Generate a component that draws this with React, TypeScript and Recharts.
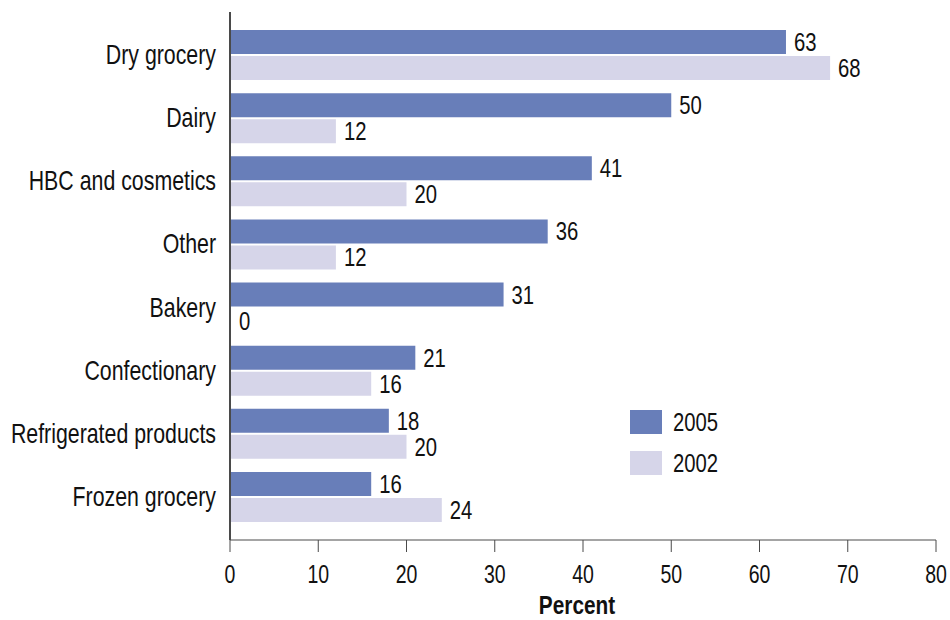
import React from 'react';
import { BarChart, Bar, XAxis, YAxis, LabelList } from 'recharts';

const categories = [
    'Dry grocery',
    'Dairy',
    'HBC and cosmetics',
    'Other',
    'Bakery',
    'Confectionary',
    'Refrigerated products',
    'Frozen grocery',
];
const values2005 = [63, 50, 41, 36, 31, 21, 18, 16];
const values2002 = [68, 12, 20, 12, 0, 16, 20, 24];
const xTicks = [0, 10, 20, 30, 40, 50, 60, 70, 80];

// no narrow face installed, so Arial-metric text is squeezed horizontally
const FONT = "'Liberation Sans', Arial, sans-serif";
const DARK = '#687eb9';
const LIGHT = '#d6d5e9';
const AXIS = '#4a4a4a';
const INK = '#111';

const data = categories.map((name, i) => ({
    name,
    y2005: values2005[i],
    y2002: values2002[i],
}));

const NarrowText = ({ x, y, anchor = 'start', dy = '0.35em', size = 26, squeeze = 0.78, bold = false, children }: any) => (
    <g transform={`translate(${x},${y})`}>
        <text
            transform={`scale(${squeeze},1)`}
            textAnchor={anchor}
            dy={dy}
            fontSize={size}
            fontWeight={bold ? 'bold' : 'normal'}
            fontFamily={FONT}
            fill={INK}
        >
            {children}
        </text>
    </g>
);

const CategoryTick = ({ x, y, payload }: any) => (
    <NarrowText x={x} y={y} anchor="end" size={27} squeeze={0.79}>
        {payload.value}
    </NarrowText>
);

const PercentTick = ({ x, y, payload }: any) => (
    <NarrowText x={x} y={y} anchor="middle" dy="0.71em" size={25}>
        {payload.value}
    </NarrowText>
);

const valueLabel = (props: any) => {
    const { x, y, width, height, value } = props;
    return (
        <NarrowText key={`${x}-${y}`} x={Number(x) + Number(width) + 8} y={Number(y) + Number(height) / 2}>
            {value}
        </NarrowText>
    );
};

const percentTitle = (props: any) => {
    const { x, y, width, height } = props.viewBox;
    return (
        <NarrowText x={x + width / 2 - 6} y={y + height - 6} anchor="middle" dy={0} size={26} squeeze={0.8} bold>
            Percent
        </NarrowText>
    );
};

const legendItems = [
    { label: '2005', color: DARK },
    { label: '2002', color: LIGHT },
];

export default function App() {
    return (
        <div style={{ position: 'absolute', left: 0, top: 0, width: 950, height: 620, background: '#fff' }}>
            <BarChart
                width={950}
                height={620}
                data={data}
                layout="vertical"
                margin={{ top: 12, right: 14, bottom: 0, left: 0 }}
                barSize={24}
                barGap={2}
            >
                <XAxis
                    type="number"
                    domain={[0, 80]}
                    ticks={xTicks}
                    height={80}
                    stroke={AXIS}
                    tickSize={12}
                    tickMargin={13}
                    tick={<PercentTick />}
                    label={{ content: percentTitle }}
                />
                <YAxis
                    type="category"
                    dataKey="name"
                    width={230}
                    padding={{ top: 11, bottom: 12 }}
                    axisLine={{ stroke: AXIS, strokeWidth: 2 }}
                    tickLine={false}
                    tickSize={0}
                    tickMargin={14}
                    tick={<CategoryTick />}
                />
                <Bar dataKey="y2005" name="2005" fill={DARK} isAnimationActive={false}>
                    <LabelList dataKey="y2005" content={valueLabel} />
                </Bar>
                {/* minPointSize keeps the zero bar (hidden under the axis) so its label still shows */}
                <Bar dataKey="y2002" name="2002" fill={LIGHT} minPointSize={1} isAnimationActive={false}>
                    <LabelList dataKey="y2002" content={valueLabel} />
                </Bar>
            </BarChart>
            <svg style={{ position: 'absolute', left: 630, top: 400 }} width={200} height={100}>
                {legendItems.map((item, i) => (
                    <g key={item.label} transform={`translate(0,${10 + i * 41})`}>
                        <rect width={32} height={24} fill={item.color} />
                        <NarrowText x={43} y={12}>
                            {item.label}
                        </NarrowText>
                    </g>
                ))}
            </svg>
        </div>
    );
}
